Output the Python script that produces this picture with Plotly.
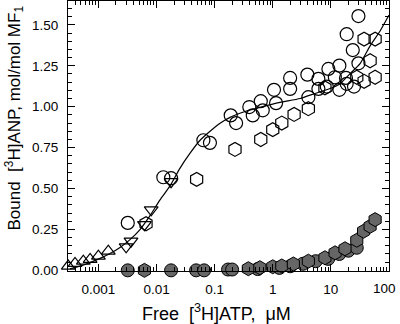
import plotly.graph_objects as go

# ---- data ----
circ_x = [0.0032, 0.0131, 0.0178, 0.064, 0.083, 0.189, 0.234, 0.395, 0.453, 0.622, 0.673,
          1.05, 1.14, 1.99, 1.99, 3.94, 4.1, 6.1, 6.1, 8.5, 9.06, 11.7, 14.0, 14.0, 18.2,
          18.7, 18.7, 23.8, 25.0, 29.8, 29.8]
circ_y = [0.29, 0.569, 0.563, 0.795, 0.779, 0.947, 0.90, 0.998, 0.947, 1.034, 0.978,
          1.103, 1.022, 1.176, 1.109, 1.196, 1.058, 1.17, 1.109, 1.123, 1.231, 1.18, 1.251, 1.103, 1.176,
          1.14, 1.443, 1.346, 1.123, 1.554, 1.265]

hex_x = [0.0066, 0.049, 0.224, 0.622, 1.0, 1.43, 2.33, 4.1, 7.9, 27.9, 37.3, 37.3, 47.3, 57.7, 57.7]
hex_y = [0.285, 0.556, 0.739, 0.80, 0.86, 0.90, 0.953, 0.988, 1.115, 1.18, 1.155, 1.413, 1.281, 1.413, 1.18]

tup_x = [0.000303, 0.000396, 0.00055, 0.00072, 0.0010, 0.00148]
tup_y = [0.026, 0.042, 0.056, 0.067, 0.087, 0.117]

tdn_x = [0.0030, 0.00364, 0.0062, 0.0081, 0.0178]
tdn_y = [0.144, 0.178, 0.279, 0.37, 0.542]

fcirc_x = [0.0032, 0.0178, 0.048, 0.066, 0.17, 0.2, 0.55, 1.3, 2.0, 3.3, 5.5, 9.0, 14.0, 20.0, 27.9]
fcirc_y = [0.0, 0.0, 0.0, 0.0, 0.005, 0.005, 0.008, 0.015, 0.025, 0.04, 0.056, 0.07, 0.10, 0.12, 0.138]

fhex_x = [0.0062, 0.38, 0.6, 1.0, 1.43, 2.26, 4.1, 7.9, 11.8, 17.5, 27.9, 36.5, 47.3, 57.7]
fhex_y = [0.0, 0.01, 0.016, 0.022, 0.027, 0.039, 0.056, 0.077, 0.107, 0.132, 0.184, 0.239, 0.269, 0.31]

fit_x = [0.000325, 0.000589, 0.001066, 0.001585, 0.002355, 0.0035, 0.0052, 0.00773, 0.01148,
         0.0171, 0.0254, 0.0378, 0.0561, 0.0834, 0.124, 0.184, 0.334, 0.605, 1.336, 2.95,
         5.35, 9.69, 14.4, 21.4, 31.8, 47.3, 70.3, 100.0]
fit_y = [0.009, 0.036, 0.073, 0.103, 0.140, 0.188, 0.249, 0.334, 0.431,
         0.516, 0.625, 0.716, 0.795, 0.850, 0.899, 0.935, 0.971, 0.996, 1.026, 1.050,
         1.081, 1.111, 1.141, 1.202, 1.263, 1.372, 1.463, 1.56]

xtick_vals = [0.001, 0.01, 0.1, 1, 10, 100]
xtick_text = ["0.001", "0.01", "0.1", "1", "10", "100"]
ytick_vals = [0.0, 0.25, 0.5, 0.75, 1.0, 1.25, 1.5]
ytick_text = ["0.00", "0.25", "0.50", "0.75", "1.00", "1.25", "1.50"]

x_title = "Free\u00a0\u00a0[<sup>3</sup>H]ATP,\u00a0\u00a0\u03bcM"
y_title = "Bound\u00a0\u00a0[<sup>3</sup>H]ANP, mol/mol MF<sub>1</sub>"

GRAY = "#666666"
FONT = "Liberation Sans, Arial, sans-serif"

fig = go.Figure()
fig.add_trace(go.Scatter(x=fit_x, y=fit_y, mode="lines", cliponaxis=False,
                         line=dict(color="black", width=1.2, shape="spline", smoothing=0.6),
                         showlegend=False, hoverinfo="skip"))

def open_trace(x, y, sym, size):
    return go.Scatter(x=x, y=y, mode="markers", cliponaxis=False, showlegend=False,
                      marker=dict(symbol=sym, size=size, color="rgba(0,0,0,0)",
                                  line=dict(color="black", width=1.2)))

def filled_trace(x, y, sym, size):
    return go.Scatter(x=x, y=y, mode="markers", cliponaxis=False, showlegend=False,
                      marker=dict(symbol=sym, size=size, color=GRAY,
                                  line=dict(color="black", width=1)))

fig.add_trace(filled_trace(fcirc_x, fcirc_y, "circle", 13))
fig.add_trace(filled_trace(fhex_x, fhex_y, "hexagon", 14))
fig.add_trace(open_trace(tup_x, tup_y, "triangle-up", 12))
fig.add_trace(open_trace(tdn_x, tdn_y, "triangle-down", 12))
fig.add_trace(open_trace(hex_x, hex_y, "hexagon", 14))
fig.add_trace(open_trace(circ_x, circ_y, "circle", 13))

axis_common = dict(showline=True, linecolor="black", linewidth=1, mirror="allticks",
                   ticks="inside", tickcolor="black", showgrid=False, zeroline=False,
                   automargin=False, ticklabeloverflow="allow",
                   tickfont=dict(family=FONT, size=13.5, color="black"))

# the last x label ("100") is drawn as an annotation so it can sit just inside the page edge
fig.update_xaxes(type="log", range=[-3.523, 2.0], tickvals=xtick_vals,
                 ticktext=xtick_text[:-1] + [""],
                 ticklen=7, tickwidth=1, ticklabelstandoff=6,
                 minor=dict(ticks="inside", ticklen=4, tickcolor="black", dtick="D1", showgrid=False),
                 **axis_common)
fig.update_yaxes(range=[-0.004, 1.646], tickvals=ytick_vals, ticktext=ytick_text,
                 ticklen=7, tickwidth=1, ticklabelstandoff=6,
                 minor=dict(ticks="inside", ticklen=4, tickcolor="black", dtick=0.05, showgrid=False),
                 **axis_common)

fig.update_layout(width=400, height=324, margin=dict(l=68, r=11, t=1, b=53),
                  plot_bgcolor="white", paper_bgcolor="white",
                  font=dict(family=FONT, size=14, color="black"),
                  annotations=[
                      dict(text=xtick_text[-1], xref="x", yref="paper", x=2.0, y=-0.066,
                           xanchor="center", yanchor="middle", xshift=-5, showarrow=False,
                           font=dict(family=FONT, size=13.5, color="black")),
                      dict(text=x_title, xref="paper", yref="paper", x=0.464, y=-0.152,
                           xanchor="center", yanchor="middle", showarrow=False,
                           font=dict(family=FONT, size=18, color="black")),
                      dict(text=y_title, xref="paper", yref="paper", x=-0.168, y=0.565,
                           xanchor="center", yanchor="middle", textangle=-90, showarrow=False,
                           font=dict(family=FONT, size=17, color="black")),
                  ])

fig.write_html("out.html", config={"displayModeBar": False},
               post_script="document.body.style.margin='0px';document.body.style.overflow='hidden';")
